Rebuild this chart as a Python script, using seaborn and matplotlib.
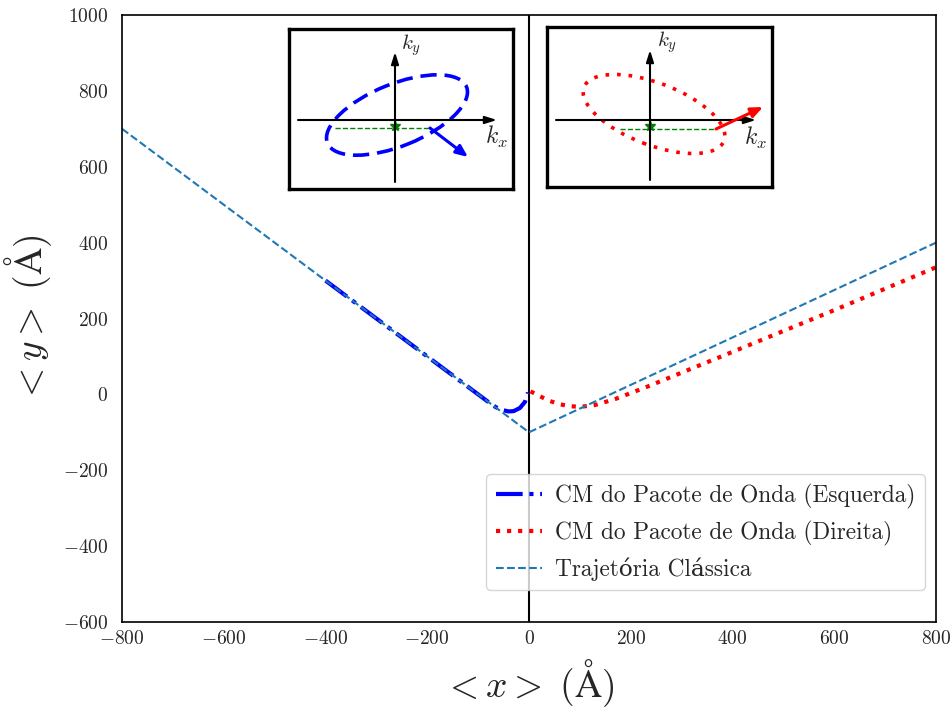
import numpy as np
import pandas as pd
import matplotlib
matplotlib.use("Agg")
import matplotlib.pyplot as plt
from matplotlib.patches import Ellipse
import seaborn as sns

# ---- data ----
blue_x = [-400, -300, -200, -100, -80, -65, -50, -40, -30, -18, -8, -2]
blue_y = [300, 200, 100, 0, -20, -34, -42, -45, -44, -36, -20, 5]

red_x = [3, 20, 40, 60, 80, 100, 130, 170, 232, 400, 600, 800]
red_y = [8, -4, -17, -26, -31, -33, -28, -12, 20, 112, 222, 335]

class_x = [-800, 0, 800]
class_y = [700, -100, 400]

xticks = [-800, -600, -400, -200, 0, 200, 400, 600, 800]
yticks = [-600, -400, -200, 0, 200, 400, 600, 800, 1000]

labels = ["CM do Pacote de Onda (Esquerda)",
          "CM do Pacote de Onda (Direita)",
          "Trajetória Clássica"]

# inset (left) geometry in inset units
L_ell = dict(center=(2, 5), a=75, b=31, angle=22)
L_green_x = [-60, 35]
L_green_y = [-8, -8]
L_star = (0, -6)
L_arrow = ((35, -8), (73, -37))
# inset (right)
R_ell = dict(center=(4, 6), a=75, b=31, angle=-21)
R_green_x = [-30, 66]
R_green_y = [-9, -9]
R_star = (0, -6)
R_arrow = ((66, -9), (113, 13))

sns.set_style("white")
plt.rcParams["font.family"] = ["cmr10", "DejaVu Serif"]
plt.rcParams["mathtext.fontset"] = "cm"
plt.rcParams["axes.formatter.use_mathtext"] = True
plt.rcParams["axes.unicode_minus"] = True

fig = plt.figure(figsize=(9.53, 7.11), dpi=100)
ax = fig.add_axes([122/953, 89/711, 814/953, 607/711])

df_b = pd.DataFrame({"x": blue_x, "y": blue_y})
df_r = pd.DataFrame({"x": red_x, "y": red_y})
df_c = pd.DataFrame({"x": class_x, "y": class_y})

sns.lineplot(data=df_b, x="x", y="y", ax=ax, sort=False, estimator=None,
             color="blue", lw=3, linestyle="-.", label=labels[0])
sns.lineplot(data=df_r, x="x", y="y", ax=ax, sort=False, estimator=None,
             color="red", lw=3, linestyle=":", label=labels[1])
sns.lineplot(data=df_c, x="x", y="y", ax=ax, sort=False, estimator=None,
             color="#1f77b4", lw=1.5, linestyle="--", label=labels[2])
ax.axvline(0, color="black", lw=1.5, zorder=0.5)

ax.set_xlim(-800, 800)
ax.set_ylim(-600, 1000)
ax.set_xticks(xticks)
ax.set_yticks(yticks)
ax.tick_params(length=0, labelsize=14)
ax.tick_params(axis="x", pad=6)
ax.tick_params(axis="y", pad=10)
for s in ax.spines.values():
    s.set_color("black")
    s.set_linewidth(1.2)
ax.set_xlabel(r"$<x>\ (\mathrm{\AA})$", fontsize=27, labelpad=6)
ax.set_ylabel(r"$<y>\ (\mathrm{\AA})$", fontsize=27, labelpad=6)
leg = ax.legend(loc="lower right", bbox_to_anchor=((925-122)/814, (622-590)/607),
                borderaxespad=0, fontsize=16.8, frameon=True, framealpha=0.8,
                edgecolor="#cccccc", fancybox=True, handletextpad=0.55,
                handlelength=2.0)


def make_inset(rect, xlim, ylim, ell, ell_color, ell_ls, gx, gy, star, arr,
               arr_color, ky_pos, kx_pos):
    a = fig.add_axes(rect)
    a.set_xlim(*xlim)
    a.set_ylim(*ylim)
    a.set_xticks([])
    a.set_yticks([])
    for s in a.spines.values():
        s.set_color("black")
        s.set_linewidth(2.4)
    ap = dict(arrowstyle="-|>,head_length=0.7,head_width=0.22", color="black",
              lw=1.5, shrinkA=0, shrinkB=0)
    a.annotate("", xy=(xlim[1] - 16, 0), xytext=(xlim[0] + 9, 0), arrowprops=ap)
    a.annotate("", xy=(0, ylim[1] - 23), xytext=(0, ylim[0] + 7), arrowprops=ap)
    e = Ellipse(ell["center"], 2 * ell["a"], 2 * ell["b"], angle=ell["angle"],
                fill=False, ec=ell_color, ls=ell_ls, lw=2.6)
    a.add_patch(e)
    a.plot(gx, gy, color="green", ls="--", lw=1)
    a.plot([star[0]], [star[1]], marker="*", color="green", ms=7)
    a.annotate("", xy=arr[1], xytext=arr[0],
               arrowprops=dict(arrowstyle="-|>,head_length=0.7,head_width=0.3",
                               color=arr_color, lw=2.2, shrinkA=0, shrinkB=0))
    a.text(*ky_pos, r"$k_y$", fontsize=15, ha="center", va="center")
    a.text(*kx_pos, r"$k_x$", fontsize=17, ha="center", va="center")
    return a


make_inset([289/953, (711-189)/711, 224/953, 160/711], (-106, 118), (-69, 91),
           L_ell, "blue", (0, (4.5, 2.2)), L_green_x, L_green_y, L_star, L_arrow,
           "blue", (16, 75), (101, -17))
make_inset([547/953, (711-187)/711, 225/953, 160/711], (-103, 122), (-67, 93),
           R_ell, "red", (0, (1, 2.2)), R_green_x, R_green_y, R_star, R_arrow,
           "red", (17, 78), (105, -18))

fig.savefig("out.png", dpi=100)
